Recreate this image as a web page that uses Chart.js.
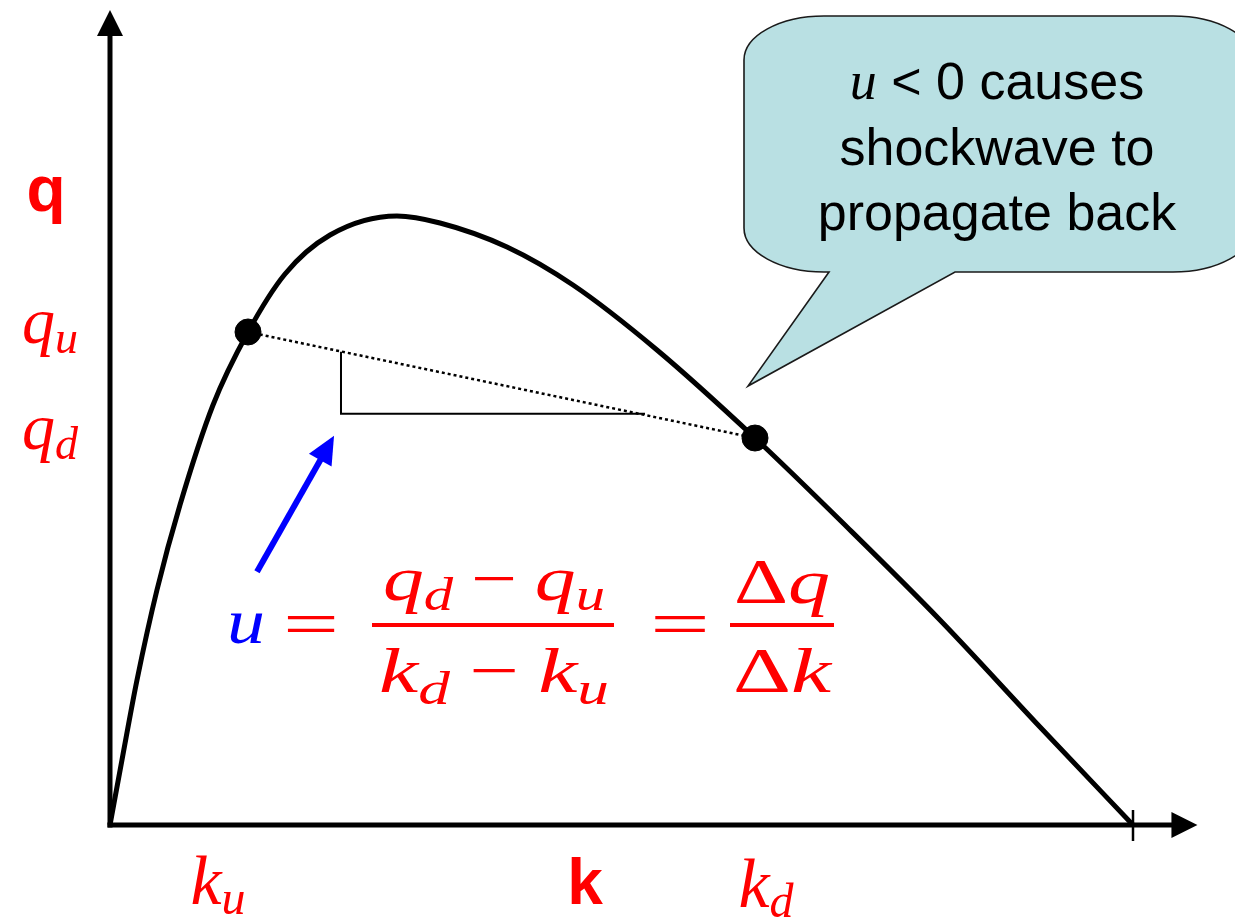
<!DOCTYPE html>
<html><head><meta charset="utf-8">
<script src="https://cdn.jsdelivr.net/npm/chart.js@4/dist/chart.umd.min.js"></script>
<style>html,body{margin:0;padding:0;background:#fff;}canvas{display:block;}</style>
</head><body>
<canvas id="c" width="1235" height="919"></canvas>
<script>
// ---- data (k = density, q = flow; arbitrary units, jam density = 100) ----
const curveK = [0, 1.17, 2.64, 4.59, 6.84, 10.07, 13.49, 17.11, 21.51, 28.05, 32.26, 38.81, 45.26, 53.47, 63.05, 72.04, 81.13, 90.91, 100];
const curveQ = [0, 10.66, 23.77, 38.52, 52.46, 68.85, 80.82, 90.33, 96.72, 99.84, 98.69, 94.75, 88.52, 77.87, 63.44, 48.85, 33.61, 16.07, 0];
const pointK = [13.49, 63.05];   // k_u, k_d
const pointQ = [80.82, 63.44];   // q_u, q_d
const triK = [22.58, 22.58, 52.3];
const triQ = [77.6, 67.4, 67.4];
const arrowK = [14.37, 21.9];
const arrowQ = [41.5, 63.8];
const jamK = 100;
const axisTipK = 106.3;
const axisTipQ = 133.6;
const subLabels = ['u', 'd'];

const RED = '#ff0000', BLUE = '#0000ff';
const MI = 'italic 64px "Liberation Serif"';
const MS = 'italic 46px "Liberation Serif"';
const MR = '64px "Liberation Serif"';

function drawRuns(ctx, runs, x, base, targetW, color) {
  let w = 0;
  runs.forEach(r => { ctx.font = r.f; r.w = ctx.measureText(r.t).width + (r.pre || 0) + (r.post || 0); w += r.w; });
  const sx = targetW ? targetW / w : 1;
  ctx.save();
  ctx.translate(x - (w * sx) / 2, base);
  ctx.scale(sx, 1);
  ctx.textAlign = 'left'; ctx.textBaseline = 'alphabetic';
  let cx = 0;
  runs.forEach(r => {
    ctx.font = r.f; ctx.fillStyle = r.c || color;
    ctx.fillText(r.t, cx + (r.pre || 0), r.dy || 0);
    cx += r.w;
  });
  ctx.restore();
}

function arrowHead(ctx, tx, ty, angle, len, half) {
  ctx.save();
  ctx.translate(tx, ty); ctx.rotate(angle);
  ctx.beginPath();
  ctx.moveTo(0, 0); ctx.lineTo(-len, -half); ctx.lineTo(-len, half); ctx.closePath();
  ctx.fill();
  ctx.restore();
}

const deco = {
  id: 'deco',
  beforeDatasetsDraw(chart) {
    const ctx = chart.ctx, xs = chart.scales.x, ys = chart.scales.y;
    const X = v => xs.getPixelForValue(v), Y = v => ys.getPixelForValue(v);
    ctx.save();
    ctx.strokeStyle = '#000'; ctx.fillStyle = '#000'; ctx.lineWidth = 5; ctx.lineCap = 'butt';
    ctx.beginPath(); ctx.moveTo(X(0), Y(0) + 2.5); ctx.lineTo(X(0), Y(axisTipQ) + 20); ctx.stroke();
    arrowHead(ctx, X(0), Y(axisTipQ), -Math.PI / 2, 26, 13);
    ctx.beginPath(); ctx.moveTo(X(0) - 2.5, Y(0)); ctx.lineTo(X(axisTipK) - 20, Y(0)); ctx.stroke();
    arrowHead(ctx, X(axisTipK), Y(0), 0, 26, 13);
    ctx.lineWidth = 2.5;
    ctx.beginPath(); ctx.moveTo(X(jamK), Y(0) - 15); ctx.lineTo(X(jamK), Y(0) + 16); ctx.stroke();
    ctx.restore();
  },
  afterDatasetsDraw(chart) {
    const ctx = chart.ctx, xs = chart.scales.x, ys = chart.scales.y;
    const X = v => xs.getPixelForValue(v), Y = v => ys.getPixelForValue(v);
    ctx.save();
    // blue arrow
    ctx.strokeStyle = BLUE; ctx.fillStyle = BLUE; ctx.lineWidth = 6;
    const x1 = X(arrowK[0]), y1 = Y(arrowQ[0]), x2 = X(arrowK[1]), y2 = Y(arrowQ[1]);
    const ang = Math.atan2(y2 - y1, x2 - x1);
    ctx.beginPath(); ctx.moveTo(x1, y1); ctx.lineTo(x2 - 20 * Math.cos(ang), y2 - 20 * Math.sin(ang)); ctx.stroke();
    arrowHead(ctx, x2, y2, ang, 28, 13);

    // axis titles
    ctx.fillStyle = RED; ctx.textAlign = 'center'; ctx.textBaseline = 'alphabetic';
    ctx.font = 'bold 64px "Liberation Sans"';
    ctx.fillText('q', X(0) - 64, Y(0) - 614);
    ctx.fillText('k', 585, Y(0) + 79);

    // q_u, q_d, k_u, k_d labels
    for (let i = 0; i < 2; i++) {
      drawRuns(ctx, [{ t: 'q', f: 'italic 66px "Liberation Serif"' }, { t: subLabels[i], f: 'italic 46px "Liberation Serif"', dy: 10 }],
        50, Y(pointQ[i]) + 11, null, RED);
      drawRuns(ctx, [{ t: 'k', f: 'italic 70px "Liberation Serif"' }, { t: subLabels[i], f: 'italic 48px "Liberation Serif"', dy: 10 }],
        X(pointK[i]) + (i ? 11 : -30), Y(0) + 79 + (i ? 3 : 0), null, RED);
    }

    // formula
    drawRuns(ctx, [{ t: 'u', f: MI }], 246, 643, 38, BLUE);
    drawRuns(ctx, [{ t: '=', f: MR }], 311, 645, 56, RED);
    drawRuns(ctx, [{ t: 'q', f: MI }, { t: 'd', f: MS, dy: 10 }, { t: '−', f: MR, pre: 14, post: 14 }, { t: 'q', f: MI }, { t: 'u', f: MS, dy: 10 }], 494, 600, 222, RED);
    drawRuns(ctx, [{ t: 'k', f: MI }, { t: 'd', f: MS, dy: 12 }, { t: '−', f: MR, pre: 14, post: 14 }, { t: 'k', f: MI }, { t: 'u', f: MS, dy: 12 }], 494, 692, 230, RED);
    ctx.fillStyle = RED;
    ctx.fillRect(372, 623, 242, 4);
    drawRuns(ctx, [{ t: '=', f: MR }], 680, 645, 60, RED);
    drawRuns(ctx, [{ t: 'Δ', f: MR }, { t: 'q', f: MI }], 782, 603, 96, RED);
    drawRuns(ctx, [{ t: 'Δ', f: MR }, { t: 'k', f: MI }], 782, 692, 98, RED);
    ctx.fillRect(730, 623, 104, 4);

    // speech bubble
    const L = 744, R = 1253, T = 16, B = 272, rx = 80, ry = 44;
    ctx.beginPath();
    ctx.moveTo(L + rx, T);
    ctx.lineTo(R - rx, T);
    ctx.ellipse(R - rx, T + ry, rx, ry, 0, -Math.PI / 2, 0);
    ctx.lineTo(R, B - ry);
    ctx.ellipse(R - rx, B - ry, rx, ry, 0, 0, Math.PI / 2);
    ctx.lineTo(955, B);
    ctx.lineTo(748, 386);
    ctx.lineTo(829, B);
    ctx.lineTo(L + rx, B);
    ctx.ellipse(L + rx, B - ry, rx, ry, 0, Math.PI / 2, Math.PI);
    ctx.lineTo(L, T + ry);
    ctx.ellipse(L + rx, T + ry, rx, ry, 0, Math.PI, Math.PI * 1.5);
    ctx.closePath();
    ctx.fillStyle = 'rgb(185,224,227)';
    ctx.fill();
    ctx.strokeStyle = '#1a1a1a'; ctx.lineWidth = 1.6; ctx.stroke();

    drawRuns(ctx, [{ t: 'u', f: 'italic 54px "Liberation Serif"' }, { t: ' < 0 causes', f: '52px "Liberation Sans"' }], 997, 99, null, '#000');
    ctx.fillStyle = '#000'; ctx.textAlign = 'center'; ctx.font = '52px "Liberation Sans"';
    ctx.fillText('shockwave to', 997, 165);
    ctx.fillText('propagate back', 997, 230);
    ctx.restore();
  }
};

new Chart(document.getElementById('c'), {
  type: 'scatter',
  data: {
    datasets: [
      { data: curveK.map((k, i) => ({ x: k, y: curveQ[i] })), showLine: true, borderColor: '#000', borderWidth: 5,
        pointRadius: 0, cubicInterpolationMode: 'monotone', clip: false, order: 3 },
      { data: pointK.map((k, i) => ({ x: k, y: pointQ[i] })), showLine: true, borderColor: '#000', borderWidth: 2.5,
        borderDash: [3, 3], pointRadius: 0, clip: false, order: 2 },
      { data: triK.map((k, i) => ({ x: k, y: triQ[i] })), showLine: true, borderColor: '#000', borderWidth: 2,
        pointRadius: 0, tension: 0, clip: false, order: 2 },
      { data: pointK.map((k, i) => ({ x: k, y: pointQ[i] })), showLine: false, backgroundColor: '#000', borderColor: '#000',
        pointRadius: 13, borderWidth: 1, clip: false, order: 1 }
    ]
  },
  options: {
    responsive: false, animation: false, devicePixelRatio: 1,
    layout: { padding: { left: 110, right: 102, top: 215, bottom: 94 } },
    plugins: { legend: { display: false }, tooltip: { enabled: false } },
    scales: {
      x: { type: 'linear', min: 0, max: 100, display: false },
      y: { type: 'linear', min: 0, max: 100, display: false }
    }
  },
  plugins: [deco]
});
</script>
</body></html>
